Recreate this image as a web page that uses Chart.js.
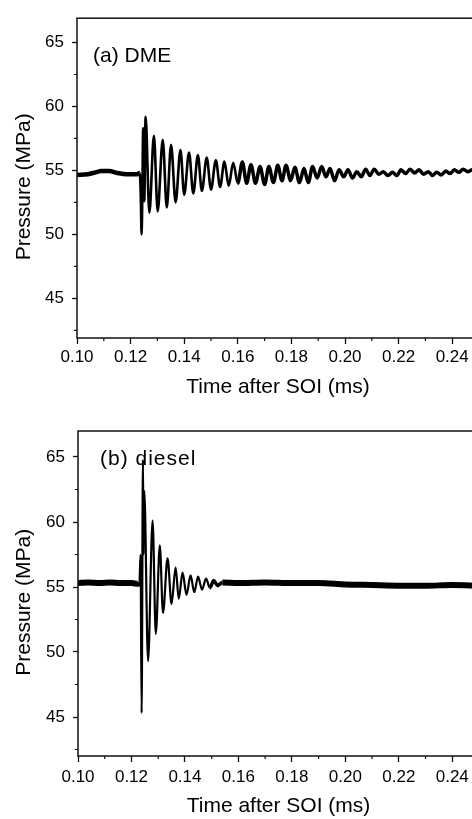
<!DOCTYPE html>
<html lang="en">
<head>
<meta charset="UTF-8">
<title>Pressure after SOI</title>
<script src="https://cdn.jsdelivr.net/npm/chart.js@4"></script>
<style>
    html, body { margin: 0; padding: 0; background: #fff; overflow: hidden; }
    .panel { position: absolute; left: 0; width: 480px; }
    #top { top: 0; height: 400px; }
    #bottom { top: 400px; height: 419px; }
</style>
</head>
<body>
<div class="panel" id="top"><canvas id="dmeChart" width="480" height="400"></canvas></div>
<div class="panel" id="bottom"><canvas id="dieselChart" width="480" height="419"></canvas></div>
<script>
// axis ticks
const xTicks = [0.10, 0.12, 0.14, 0.16, 0.18, 0.20, 0.22, 0.24];
const xMinorTicks = [0.11, 0.13, 0.15, 0.17, 0.19, 0.21, 0.23, 0.25];
const yTicks = [45, 50, 55, 60, 65];
const yMinorTicks = [42.5, 47.5, 52.5, 57.5, 62.5];

// (a) DME - peaks and troughs
const dmeTime = [
    0.1000, 0.1040, 0.1070, 0.1090, 0.1120, 0.1150, 0.1190, 0.1225, 0.1234, 0.1238,
    0.1241, 0.1244, 0.1247, 0.1251, 0.1256, 0.1270, 0.1287, 0.1301, 0.1320, 0.1335,
    0.1351, 0.1368, 0.1386, 0.1400, 0.1418, 0.1434, 0.1451, 0.1466, 0.1484, 0.1500,
    0.1518, 0.1534, 0.1550, 0.1566, 0.1583, 0.1600, 0.1617, 0.1633, 0.1649, 0.1666,
    0.1683, 0.1700, 0.1716, 0.1733, 0.1749, 0.1765, 0.1780, 0.1797, 0.1813, 0.1830,
    0.1847, 0.1863, 0.1879, 0.1896, 0.1913, 0.1929, 0.1944, 0.1961, 0.1978, 0.1995,
    0.2011, 0.2028, 0.2044, 0.2061, 0.2077, 0.2093, 0.2109, 0.2126, 0.2143, 0.2160,
    0.2177, 0.2193, 0.2209, 0.2226, 0.2243, 0.2260, 0.2276, 0.2293, 0.2311, 0.2326,
    0.2342, 0.2359, 0.2376, 0.2392, 0.2408, 0.2425, 0.2441, 0.2458, 0.2475, 0.2500
];
const dmePressure = [
    54.65, 54.70, 54.85, 54.95, 54.95, 54.80, 54.70, 54.70, 54.80, 53.00,
    50.00, 53.50, 58.30, 52.60, 59.20, 51.70, 57.70, 51.80, 57.40, 52.10,
    57.00, 52.50, 56.60, 53.10, 56.40, 53.20, 56.20, 53.40, 56.00, 53.50,
    55.80, 53.70, 55.70, 53.80, 55.60, 54.00, 55.65, 54.00, 55.45, 54.00,
    55.30, 53.90, 55.30, 54.05, 55.40, 54.20, 55.40, 54.20, 55.25, 54.05,
    55.15, 54.05, 55.30, 54.40, 55.30, 54.50, 55.15, 54.20, 55.05, 54.50,
    55.05, 54.40, 54.90, 54.50, 55.10, 54.60, 55.10, 54.70, 54.90, 54.60,
    54.85, 54.60, 55.05, 54.75, 55.10, 54.80, 55.05, 54.70, 54.90, 54.60,
    54.85, 54.65, 54.95, 54.75, 55.05, 54.85, 55.10, 54.90, 55.05, 54.95
];

// (b) diesel
const dieselTime = [
    0.1000, 0.1040, 0.1080, 0.1120, 0.1160, 0.1200, 0.1225, 0.1230, 0.1234, 0.1238,
    0.1243, 0.1245, 0.1248, 0.1262, 0.1279, 0.1291, 0.1306, 0.1318, 0.1335, 0.1350,
    0.1365, 0.1377, 0.1391, 0.1406, 0.1421, 0.1435, 0.1449, 0.1464, 0.1479, 0.1493,
    0.1508, 0.1522, 0.1540, 0.1600, 0.1700, 0.1800, 0.1900, 0.2000, 0.2100, 0.2200,
    0.2300, 0.2400, 0.2500
];
const dieselPressure = [
    55.30, 55.35, 55.30, 55.35, 55.30, 55.30, 55.25, 55.40, 57.50, 45.30,
    64.80, 57.50, 62.40, 49.30, 60.10, 51.40, 58.20, 53.00, 57.20, 53.70,
    56.50, 54.10, 56.10, 54.40, 55.90, 54.60, 55.80, 54.80, 55.65, 54.95,
    55.50, 55.10, 55.35, 55.30, 55.35, 55.30, 55.30, 55.20, 55.15, 55.10,
    55.10, 55.15, 55.10
];

Chart.defaults.font.family = "'Liberation Sans', Arial, sans-serif";
Chart.defaults.color = '#000';

// frame box, short minor ticks and the (a)/(b) label
const framePlugin = {
    id: 'frame',
    afterDatasetsDraw(chart, args, opts) {
        const { ctx, chartArea: a, scales: { x, y } } = chart;
        ctx.save();
        ctx.strokeStyle = '#111';
        ctx.lineWidth = 1.5;
        ctx.strokeRect(a.left, a.top, a.right - a.left, a.bottom - a.top);
        ctx.lineWidth = 1.2;
        ctx.beginPath();
        xMinorTicks.forEach(v => {
            const px = x.getPixelForValue(v);
            ctx.moveTo(px, a.bottom);
            ctx.lineTo(px, a.bottom + 3);
        });
        yMinorTicks.forEach(v => {
            const py = y.getPixelForValue(v);
            ctx.moveTo(a.left, py);
            ctx.lineTo(a.left - 3, py);
        });
        ctx.stroke();
        ctx.fillStyle = '#000';
        ctx.font = "21px 'Liberation Sans', Arial, sans-serif";
        ctx.letterSpacing = opts.spacing || '0px';
        ctx.textBaseline = 'middle';
        ctx.fillText(opts.label, a.left + opts.dx, a.top + opts.dy);
        ctx.restore();
    }
};

function makeChart(id, time, pressure, cfg) {
    return new Chart(document.getElementById(id), {
        type: 'line',
        data: {
            datasets: [{
                data: time.map((t, i) => ({ x: t, y: pressure[i] })),
                borderColor: '#000',
                borderWidth: 2.5,
                pointRadius: 0,
                tension: 0.4,
                cubicInterpolationMode: 'monotone',
                borderJoinStyle: 'round',
                borderCapStyle: 'butt',
                segment: { borderWidth: c => cfg.lineWidth(c.p0.parsed.x) }
            }]
        },
        options: {
            responsive: false,
            animation: false,
            events: [],
            layout: { padding: { top: cfg.top, right: 1, left: 0, bottom: 0 } },
            plugins: {
                legend: { display: false },
                tooltip: { enabled: false },
                frame: { label: cfg.label, dx: cfg.dx, dy: cfg.dy, spacing: cfg.spacing }
            },
            scales: {
                x: {
                    type: 'linear',
                    min: 0.10,
                    max: 0.25,
                    afterFit: s => { s.height = cfg.xHeight; },
                    afterBuildTicks: s => { s.ticks = xTicks.map(v => ({ value: v })); },
                    grid: { drawOnChartArea: false, tickLength: 6, tickColor: '#111', tickWidth: 1.3 },
                    border: { display: false },
                    ticks: { font: { size: 17 }, padding: cfg.tickPad, maxRotation: 0, autoSkip: false,
                             callback: v => v.toFixed(2) },
                    title: { display: true, text: 'Time after SOI (ms)', font: { size: 21 },
                             padding: { top: 0, bottom: 0 } }
                },
                y: {
                    min: cfg.yMin,
                    max: cfg.yMax,
                    afterFit: s => { s.width = cfg.yWidth; },
                    afterBuildTicks: s => { s.ticks = yTicks.map(v => ({ value: v })); },
                    grid: { drawOnChartArea: false, tickLength: 5, tickColor: '#111', tickWidth: 1.3 },
                    border: { display: false },
                    ticks: { font: { size: 17 }, padding: 8 },
                    title: { display: true, text: 'Pressure (MPa)   ', font: { size: 21 },
                             padding: { top: 12, bottom: 0 } }
                }
            }
        },
        plugins: [framePlugin]
    });
}

makeChart('dmeChart', dmeTime, dmePressure, {
    label: '(a) DME', dx: 16, dy: 38,
    top: 13, xHeight: 62, yWidth: 77, tickPad: 3,
    yMin: 41.9, yMax: 66.9,
    lineWidth: t => t < 0.1232 ? 4.5 : (t < 0.16 ? 2.6 : 3.5)
});

makeChart('dieselChart', dieselTime, dieselPressure, {
    label: '(b) diesel', dx: 22, dy: 28, spacing: '1px',
    top: 31, xHeight: 63, yWidth: 78, tickPad: 5,
    yMin: 42.0, yMax: 67.0,
    lineWidth: t => t < 0.1228 ? 6 : (t < 0.1490 ? 2.2 : (t < 0.1530 ? 3.5 : 6))
});
</script>
</body>
</html>
